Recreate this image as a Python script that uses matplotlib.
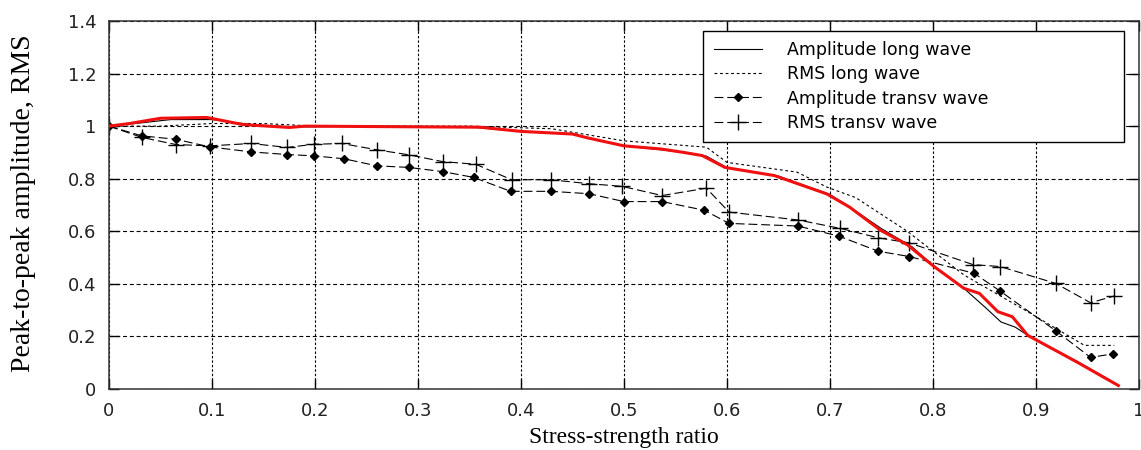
import numpy as np
import matplotlib.pyplot as plt
from matplotlib.ticker import FormatStrFormatter

# stress-strength ratio vs normalised amplitude / RMS
amp_long_x = [0, 0.03, 0.06, 0.1, 0.14, 0.18, 0.25, 0.35, 0.40, 0.45, 0.50, 0.56, 0.58, 0.60,
              0.65, 0.70, 0.72, 0.75, 0.78, 0.80, 0.83, 0.852, 0.866, 0.88, 0.892, 0.94, 0.98]
amp_long_y = [1.0, 1.012, 1.025, 1.025, 1.005, 0.997, 1.0, 0.997, 0.98, 0.97, 0.925, 0.9, 0.886, 0.842,
              0.81, 0.74, 0.69, 0.61, 0.54, 0.47, 0.383, 0.306, 0.255, 0.235, 0.204, 0.105, 0.015]

# measured curve drawn in red on top
red_x = [0, 0.02, 0.05, 0.095, 0.13, 0.175, 0.19, 0.36, 0.40, 0.45, 0.465, 0.50, 0.536, 0.558, 0.576,
         0.598, 0.646, 0.697, 0.719, 0.749, 0.775, 0.801, 0.83, 0.845, 0.863, 0.877, 0.892, 0.94, 0.98]
red_y = [1.0, 1.01, 1.03, 1.033, 1.006, 0.995, 1.0, 0.996, 0.98, 0.97, 0.955, 0.925, 0.913, 0.90, 0.888,
         0.843, 0.812, 0.742, 0.692, 0.604, 0.549, 0.466, 0.383, 0.364, 0.294, 0.275, 0.204, 0.102, 0.013]

rms_long_x = [0, 0.05, 0.1, 0.15, 0.2, 0.3, 0.35, 0.43, 0.5, 0.58, 0.6, 0.668, 0.697, 0.725,
              0.775, 0.83, 0.892, 0.947, 0.976]
rms_long_y = [1.0, 1.0, 1.01, 1.01, 1.0, 1.0, 1.0, 0.99, 0.944, 0.92, 0.862, 0.825, 0.768, 0.728,
              0.6, 0.434, 0.294, 0.166, 0.166]

amp_tr_x = [0, 0.032, 0.065, 0.098, 0.138, 0.173, 0.199, 0.228, 0.26, 0.291, 0.324, 0.354, 0.39, 0.429,
            0.466, 0.5, 0.537, 0.578, 0.602, 0.669, 0.709, 0.747, 0.777, 0.84, 0.865, 0.919, 0.953, 0.975]
amp_tr_y = [1.0, 0.963, 0.95, 0.921, 0.902, 0.892, 0.887, 0.876, 0.849, 0.843, 0.827, 0.805, 0.752, 0.752,
            0.743, 0.713, 0.713, 0.68, 0.63, 0.62, 0.581, 0.524, 0.504, 0.44, 0.373, 0.222, 0.12, 0.134]

rms_tr_x = [0, 0.032, 0.065, 0.098, 0.138, 0.173, 0.199, 0.226, 0.26, 0.291, 0.324, 0.356, 0.391, 0.429,
            0.466, 0.498, 0.537, 0.58, 0.602, 0.669, 0.71, 0.747, 0.777, 0.839, 0.865, 0.919, 0.953, 0.976]
rms_tr_y = [1.0, 0.957, 0.93, 0.925, 0.934, 0.919, 0.931, 0.934, 0.91, 0.891, 0.865, 0.855, 0.796, 0.796,
            0.781, 0.771, 0.736, 0.764, 0.673, 0.643, 0.611, 0.575, 0.556, 0.473, 0.466, 0.402, 0.328, 0.354]

x_ticks = np.arange(0, 1.01, 0.1)
y_ticks = np.arange(0, 1.41, 0.2)

fig = plt.figure(figsize=(11.41, 4.5), dpi=100)
ax = fig.add_axes([109/1141, 1 - 389/450, 1030/1141, 368/450])

ax.plot(amp_long_x, amp_long_y, color='black', lw=0.8, label='Amplitude long wave')
ax.plot(rms_long_x, rms_long_y, color='black', lw=0.8, ls=(0, (2.5, 2.5)), label='RMS long wave')
ax.plot(amp_tr_x, amp_tr_y, color='black', lw=0.8, ls=(0, (8, 3.5)), marker='D', ms=4.5,
        label='Amplitude transv wave')
ax.plot(rms_tr_x, rms_tr_y, color='black', lw=0.8, ls=(0, (8, 3.5)), marker='+', ms=12, mew=1,
        label='RMS transv wave')
ax.plot(red_x, red_y, color='#f01010', lw=2.2, zorder=5)

ax.set_xlim(0, 1)
ax.set_ylim(0, 1.4)
ax.set_xticks(x_ticks)
ax.set_yticks(y_ticks)
ax.xaxis.set_major_formatter(FormatStrFormatter('%g'))
ax.yaxis.set_major_formatter(FormatStrFormatter('%g'))
ax.tick_params(direction='in', length=7, width=1, top=True, right=True,
               labelsize=13, labelcolor='#222222', pad=9)
for lab in ax.get_xticklabels() + ax.get_yticklabels():
    lab.set_family('DejaVu Sans')

ax.xaxis.grid(True, color='black', lw=0.8, ls=(0, (2.2, 1.8)))
ax.yaxis.grid(True, color='black', lw=0.8, ls=(0, (3.6, 2.5)))
for s in ax.spines.values():
    s.set_linewidth(1.1)
    s.set_color('#333333')

ax.set_xlabel('Stress-strength ratio', family='Liberation Serif', fontsize=17, va='center')
ax.xaxis.set_label_coords(0.5, -0.133)
ax.set_ylabel('Peak-to-peak amplitude, RMS', family='Liberation Serif', fontsize=20, va='center')
ax.yaxis.set_label_coords(-0.083, 0.505)

leg = ax.legend(loc='upper left', bbox_to_anchor=(0.577, 0.673, 0.408, 0.3), mode='expand',
                borderaxespad=0, fancybox=False, framealpha=1, edgecolor='black',
                handlelength=2.8, handletextpad=1.4, labelspacing=0.35, borderpad=0.6,
                prop={'family': 'DejaVu Sans', 'size': 12.5})
leg.get_frame().set_linewidth(1.0)

fig.savefig('out.png', dpi=100)
